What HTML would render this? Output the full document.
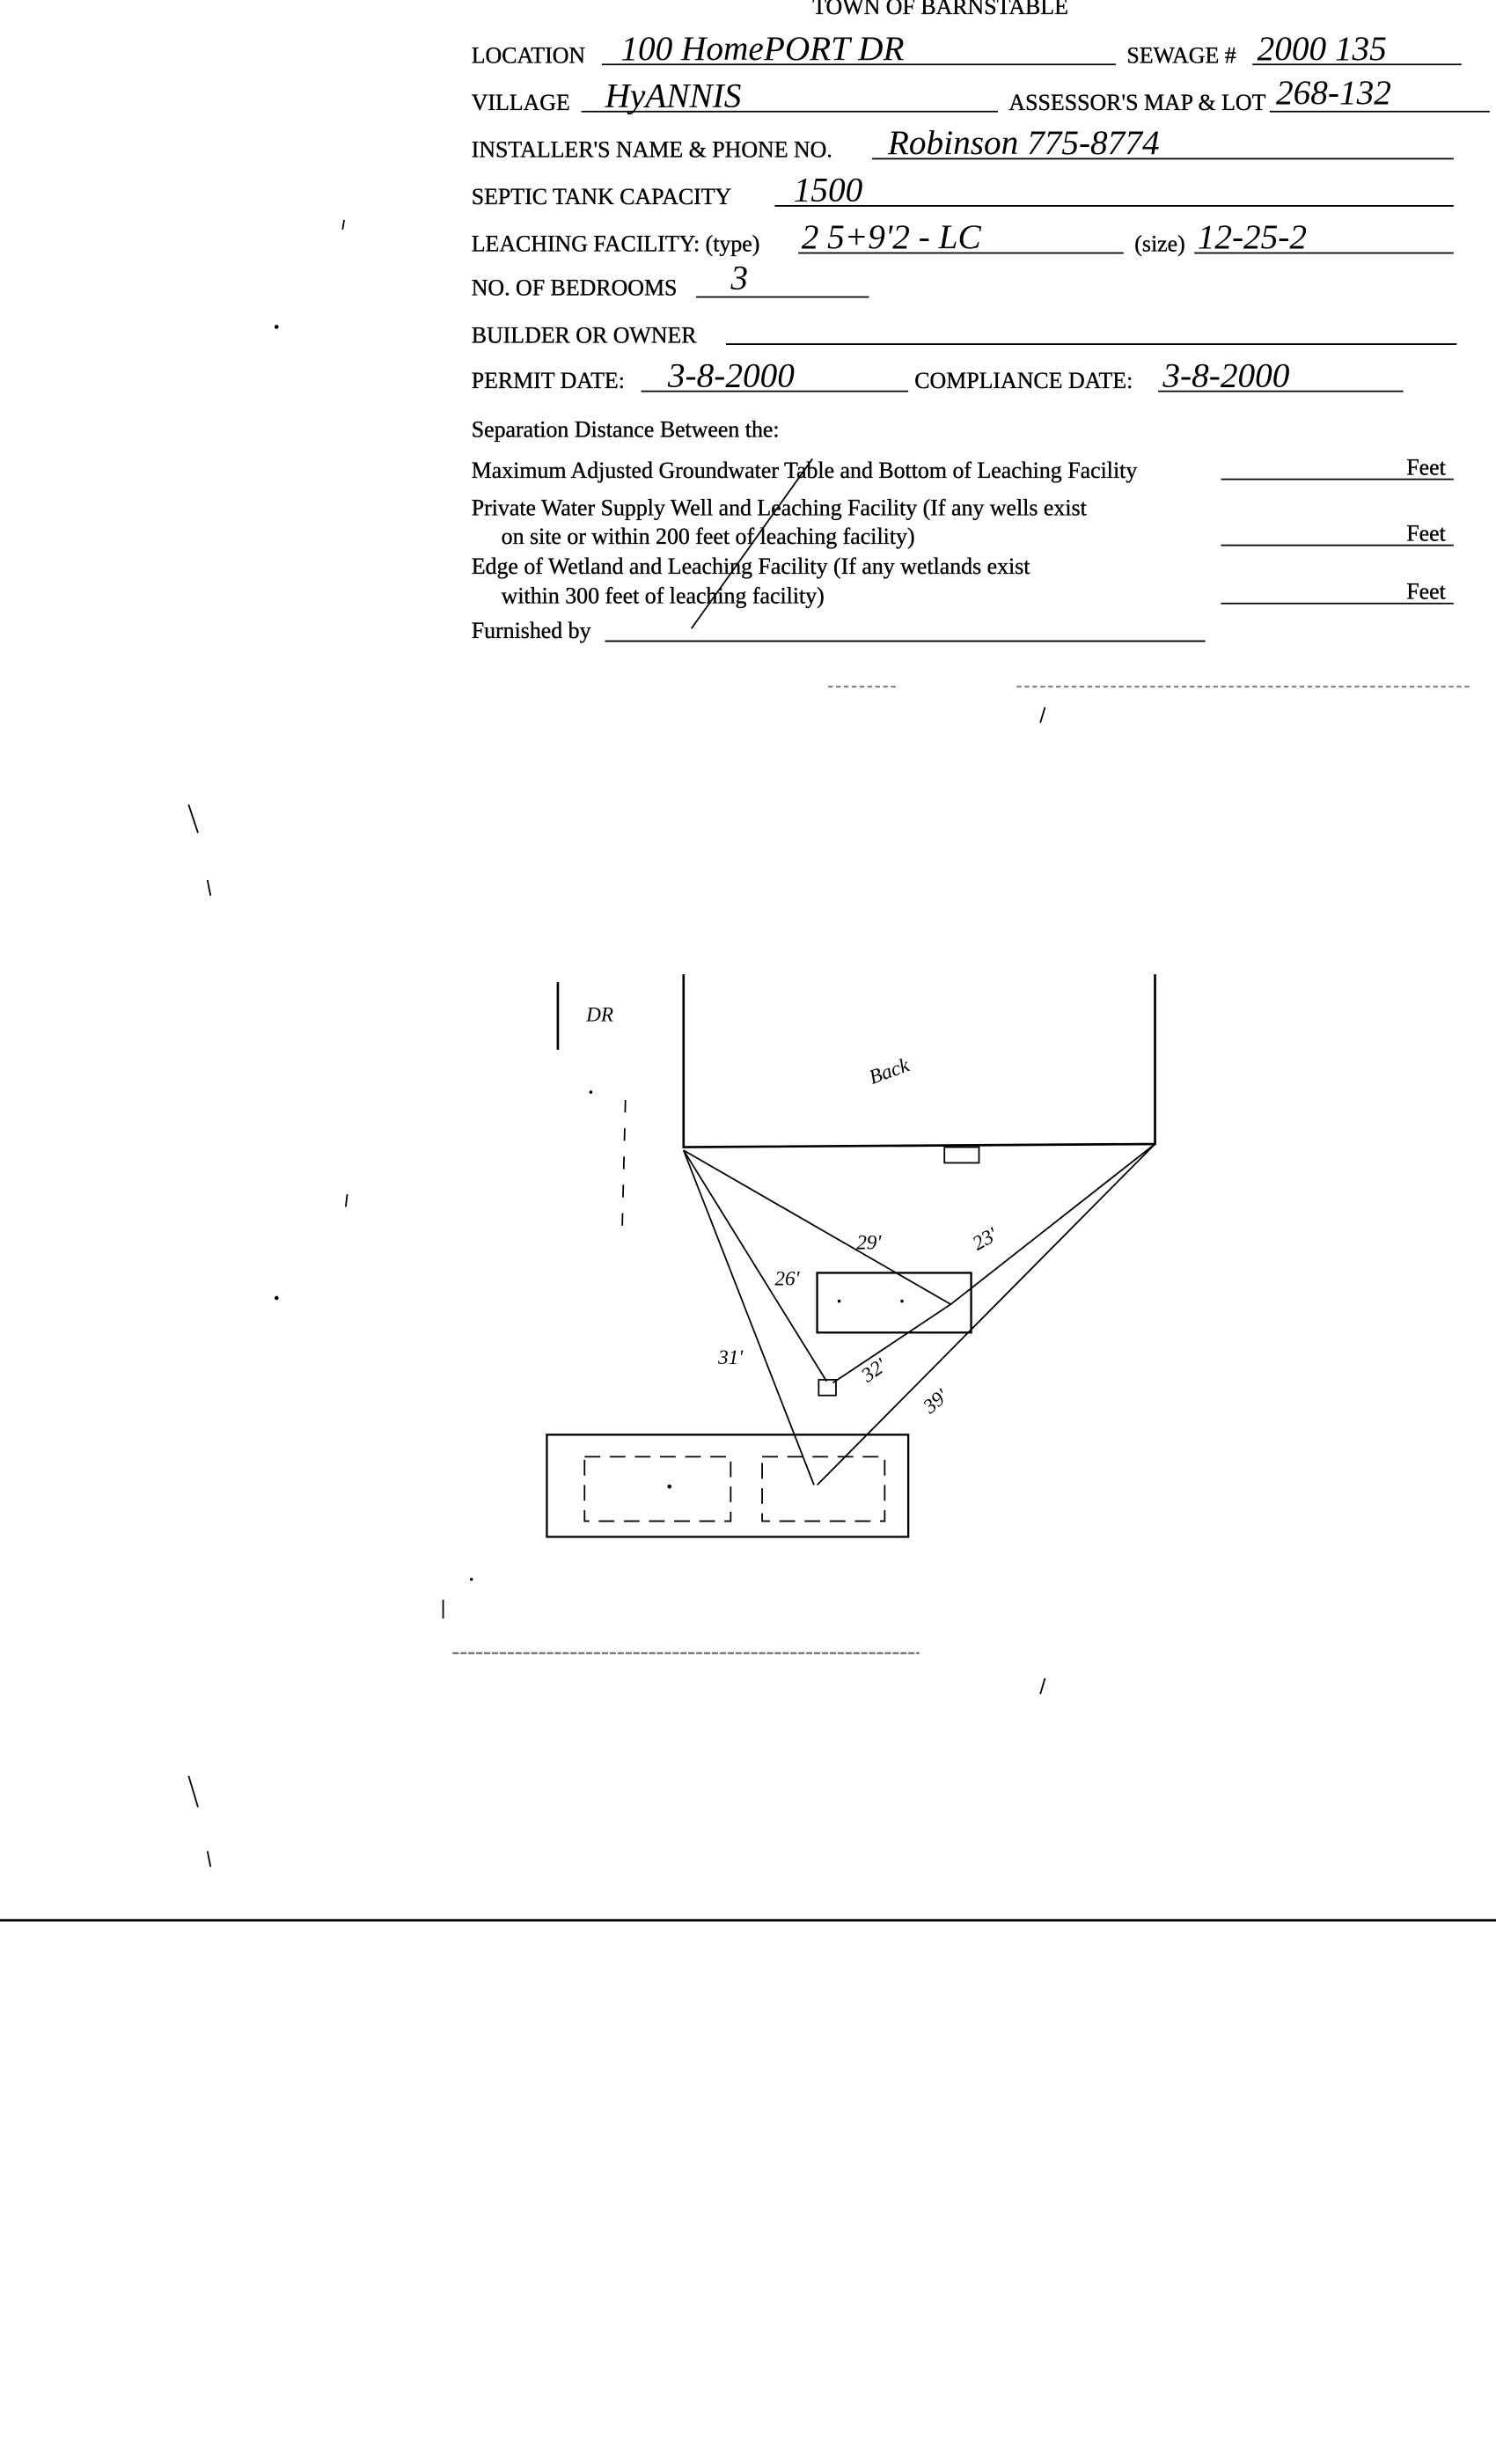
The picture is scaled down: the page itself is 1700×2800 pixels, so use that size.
<!DOCTYPE html>
<html><head><meta charset="utf-8"><style>
html,body{margin:0;padding:0;background:#fff;}
svg{display:block;}
.t{font-family:"Liberation Serif",serif;font-size:14.5px;fill:#000;stroke:#000;stroke-width:0.2;}
.h{font-family:"Liberation Serif",serif;font-style:italic;font-size:22px;fill:#000;}
.s{font-family:"Liberation Serif",serif;font-style:italic;font-size:13px;fill:#000;}
</style></head><body>
<svg width="1700" height="2800" viewBox="0 0 952 1568" xmlns="http://www.w3.org/2000/svg">
<rect width="952" height="1568" fill="#fff"/>
<g stroke="#000" stroke-width="1" fill="none">
<line x1="383" y1="41" x2="710" y2="41"/><line x1="797" y1="41" x2="930" y2="41"/>
<line x1="370" y1="71" x2="635" y2="71"/><line x1="808" y1="71" x2="948" y2="71"/>
<line x1="555" y1="101" x2="925" y2="101"/>
<line x1="493" y1="131" x2="925" y2="131"/>
<line x1="508" y1="161" x2="715" y2="161"/><line x1="760" y1="161" x2="925" y2="161"/>
<line x1="443" y1="189" x2="553" y2="189"/>
<line x1="462" y1="219" x2="927" y2="219"/>
<line x1="408" y1="249" x2="578" y2="249"/><line x1="737" y1="249" x2="893" y2="249"/>
<line x1="777" y1="305" x2="925" y2="305"/>
<line x1="777" y1="347" x2="925" y2="347"/>
<line x1="777" y1="384" x2="925" y2="384"/>
<line x1="385" y1="408" x2="767" y2="408"/>
<line x1="527" y1="437" x2="570" y2="437" stroke-dasharray="3,2" stroke="#666"/>
<line x1="647" y1="437" x2="935" y2="437" stroke-dasharray="3,2" stroke="#666"/>
<line x1="0" y1="1222" x2="952" y2="1222" stroke-width="1.5"/>
<line x1="288" y1="1052" x2="585" y2="1052" stroke-dasharray="4,1" stroke="#555"/>
<line x1="517" y1="292" x2="440" y2="400"/>
<polyline points="435,620 435,730 735,728 735,620" stroke-width="1.5"/>
<line x1="355" y1="625" x2="355" y2="668" stroke-width="1.5"/>
<polyline points="398,700 396,780" stroke-dasharray="8,10"/>
<rect x="601" y="730" width="22" height="10"/>
<rect x="520" y="810" width="98" height="38" stroke-width="1.3"/>
<rect x="521" y="878" width="11" height="10"/>
<rect x="348" y="913" width="230" height="65" stroke-width="1.3"/>
<rect x="372" y="927" width="93" height="41" stroke-dasharray="10,6"/>
<rect x="485" y="927" width="78" height="41" stroke-dasharray="10,6"/>
<line x1="435" y1="732" x2="605" y2="830"/>
<line x1="435" y1="732" x2="526" y2="879"/>
<line x1="435" y1="732" x2="518" y2="945"/>
<line x1="735" y1="728" x2="605" y2="830"/>
<line x1="735" y1="728" x2="520" y2="945"/>
<line x1="530" y1="880" x2="605" y2="830"/>
<line x1="120" y1="512" x2="126" y2="530"/><line x1="120" y1="1130" x2="126" y2="1150"/>
<line x1="132" y1="560" x2="134" y2="570"/><line x1="132" y1="1178" x2="134" y2="1188"/>
<line x1="282" y1="1018" x2="282" y2="1030"/>
<line x1="221" y1="760" x2="220" y2="768"/><line x1="219" y1="140" x2="218" y2="146"/>
<line x1="665" y1="450" x2="662" y2="460"/><line x1="665" y1="1068" x2="662" y2="1078"/>
</g>
<g fill="#000">
<circle cx="176" cy="208" r="1.3"/><circle cx="176" cy="826" r="1.3"/>
<circle cx="426" cy="946" r="1.3"/><circle cx="534" cy="828" r="1"/><circle cx="574" cy="828" r="1"/>
<circle cx="376" cy="695" r="1"/><circle cx="300" cy="1005" r="1"/>
</g>
<text class="t" x="517" y="9">TOWN OF BARNSTABLE</text>
<text class="t" x="300" y="40">LOCATION</text><text class="h" x="395" y="38">100 HomePORT  DR</text>
<text class="t" x="717" y="40">SEWAGE #</text><text class="h" x="800" y="38">2000 135</text>
<text class="t" x="300" y="70">VILLAGE</text><text class="h" x="385" y="68">HyANNIS</text>
<text class="t" x="642" y="70">ASSESSOR'S MAP &amp; LOT</text><text class="h" x="812" y="66">268-132</text>
<text class="t" x="300" y="100">INSTALLER'S NAME &amp; PHONE NO.</text><text class="h" x="565" y="98">Robinson  775-8774</text>
<text class="t" x="300" y="130">SEPTIC TANK CAPACITY</text><text class="h" x="505" y="128">1500</text>
<text class="t" x="300" y="160">LEACHING FACILITY: (type)</text><text class="h" x="510" y="158">2  5+9'2 - LC</text>
<text class="t" x="722" y="160">(size)</text><text class="h" x="762" y="158">12-25-2</text>
<text class="t" x="300" y="188">NO. OF BEDROOMS</text><text class="h" x="465" y="184">3</text>
<text class="t" x="300" y="218">BUILDER OR OWNER</text>
<text class="t" x="300" y="247">PERMIT DATE:</text><text class="h" x="425" y="246">3-8-2000</text>
<text class="t" x="582" y="247">COMPLIANCE DATE:</text><text class="h" x="740" y="246">3-8-2000</text>
<text class="t" x="300" y="278">Separation Distance Between the:</text>
<text class="t" x="300" y="304">Maximum Adjusted Groundwater Table and Bottom of Leaching Facility</text><text class="t" x="895" y="302">Feet</text>
<text class="t" x="300" y="328">Private Water Supply Well and Leaching Facility  (If any wells exist</text>
<text class="t" x="319" y="346">on site or within 200 feet of leaching facility)</text><text class="t" x="895" y="344">Feet</text>
<text class="t" x="300" y="365">Edge of Wetland and Leaching Facility (If any wetlands exist</text>
<text class="t" x="319" y="384">within 300 feet of leaching facility)</text><text class="t" x="895" y="381">Feet</text>
<text class="t" x="300" y="406">Furnished by</text>
<text class="s" x="373" y="650">DR</text>
<text class="s" x="555" y="690" transform="rotate(-20 555 690)">Back</text>
<text class="s" x="545" y="795">29'</text>
<text class="s" x="622" y="796" transform="rotate(-30 622 796)">23'</text>
<text class="s" x="493" y="818">26'</text>
<text class="s" x="457" y="868">31'</text>
<text class="s" x="552" y="880" transform="rotate(-35 552 880)">32'</text>
<text class="s" x="592" y="900" transform="rotate(-40 592 900)">39'</text>
</svg>
</body></html>
